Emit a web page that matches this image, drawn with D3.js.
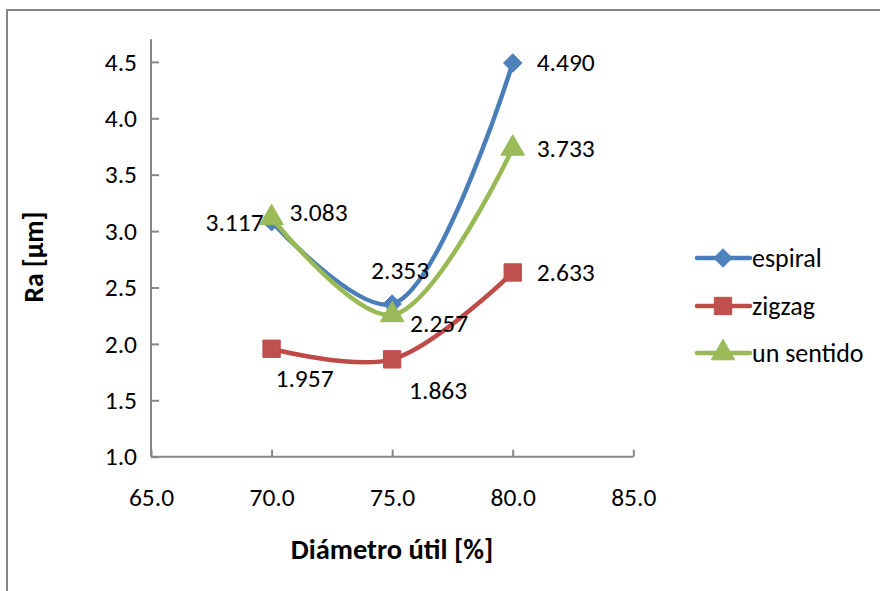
<!DOCTYPE html>
<html>
<head>
<meta charset="utf-8">
<script src="https://cdn.jsdelivr.net/npm/d3@7"></script>
<style>
  html, body { margin: 0; padding: 0; background: #fff; }
  svg { display: block; }
  text { font-family: Carlito, Lato, "Open Sans", sans-serif; fill: #000; }
</style>
</head>
<body>
<svg id="chart" width="880" height="591"></svg>
<script>
// ---- data ----
const xValues = [70, 75, 80];
const seriesNames = ["espiral", "zigzag", "un sentido"];
const espiral = [3.083, 2.353, 4.490];
const zigzag = [1.957, 1.863, 2.633];
const unSentido = [3.117, 2.257, 3.733];
const xTicks = [65, 70, 75, 80, 85];
const yTicks = [1.0, 1.5, 2.0, 2.5, 3.0, 3.5, 4.0, 4.5];
const xTitle = "Diámetro útil [%]";
const yTitle = "Ra [µm]";

// ---- styles ----
const colors = ["#4A7EBB", "#BE4B48", "#98B954"];
const markerFill = ["#4F81BD", "#C0504D", "#9BBB59"];
const FS = "25.5px";
// Excel-like diamond: a square rotated 45 degrees
const symbolExcelDiamond = {
  draw(ctx, size) {
    const r = Math.sqrt(size / 2);
    ctx.moveTo(0, -r); ctx.lineTo(r, 0); ctx.lineTo(0, r); ctx.lineTo(-r, 0); ctx.closePath();
  }
};
const markerTypes = [symbolExcelDiamond, d3.symbolSquare, d3.symbolTriangle];
const markerSizes = [170, 300, 240];
// label centre offsets (dx, dy) per series/point, as placed in the original
const labelOffsets = [
  [[47, -9], [8, -34], [53, 0]],
  [[33, 30], [46, 31], [53, 0]],
  [[-37, 5], [47, 9], [53, 0]]
];

const svg = d3.select("#chart");
const W = 880, H = 591;

// outer frame
svg.append("rect")
  .attr("x", 7).attr("y", 10).attr("width", W + 10).attr("height", H + 10)
  .attr("fill", "none").attr("stroke", "#868686").attr("stroke-width", 2);

const x = d3.scaleLinear().domain([65, 85]).range([151, 633.3]);
const y = d3.scaleLinear().domain([1.0, 4.7]).range([456.7, 39.3]);

// axes
const xAxis = d3.axisBottom(x).tickValues(xTicks).tickSize(-7).tickFormat(d3.format(".1f")).tickPadding(31);
const yAxis = d3.axisLeft(y).tickValues(yTicks).tickSize(-8).tickFormat(d3.format(".1f")).tickPadding(14);

const gx = svg.append("g").attr("transform", `translate(0,${y(1.0)})`).call(xAxis);
const gy = svg.append("g").attr("transform", `translate(${x(65)},0)`).call(yAxis);
[gx, gy].forEach(g => {
  g.select(".domain").attr("stroke", "#868686").attr("stroke-width", 2);
  g.selectAll(".tick line").attr("stroke", "#868686").attr("stroke-width", 2);
  g.selectAll(".tick text").style("font-size", FS).attr("fill", "#000")
    .style("font-family", "Carlito, Lato, 'Open Sans', sans-serif");
});
gx.select(".domain").attr("d", `M${x(65)},0H${x(85)}`);
gy.select(".domain").attr("d", `M0,${y(4.7)}V${y(1.0)}`);

// titles
svg.append("text").attr("x", 392).attr("y", 559).attr("text-anchor", "middle")
  .style("font-size", "28.5px").style("font-weight", "bold").text(xTitle);
svg.append("text").attr("transform", "translate(43,257) rotate(-90)").attr("text-anchor", "middle")
  .style("font-size", "27.5px").style("font-weight", "bold").text(yTitle);

// series
const allSeries = [espiral, zigzag, unSentido];
const line = d3.line().x(d => x(d[0])).y(d => y(d[1])).curve(d3.curveCatmullRom.alpha(0.5));

allSeries.forEach((vals, i) => {
  const pts = xValues.map((xv, j) => [xv, vals[j]]);
  const g = svg.append("g");
  g.append("path").attr("d", line(pts)).attr("fill", "none")
    .attr("stroke", colors[i]).attr("stroke-width", 4.5).attr("stroke-linecap", "round");
  g.selectAll("path.m").data(pts).enter().append("path")
    .attr("class", "m")
    .attr("d", d3.symbol().type(markerTypes[i]).size(markerSizes[i]))
    .attr("transform", d => `translate(${x(d[0])},${y(d[1])})`)
    .attr("fill", markerFill[i]).attr("stroke", colors[i]).attr("stroke-width", 1);
});

// data labels (drawn after so they sit on top)
allSeries.forEach((vals, i) => {
  xValues.forEach((xv, j) => {
    const off = labelOffsets[i][j];
    svg.append("text")
      .attr("x", x(xv) + off[0]).attr("y", y(vals[j]) + off[1])
      .attr("text-anchor", "middle").attr("dominant-baseline", "central")
      .style("font-size", FS).text(d3.format(".3f")(vals[j]));
  });
});

// legend
const legY = [258, 306, 353];
seriesNames.forEach((name, i) => {
  const g = svg.append("g").attr("transform", `translate(0,${legY[i]})`);
  g.append("line").attr("x1", 697).attr("x2", 750).attr("y1", 0).attr("y2", 0)
    .attr("stroke", colors[i]).attr("stroke-width", 4.5).attr("stroke-linecap", "round");
  g.append("path").attr("d", d3.symbol().type(markerTypes[i]).size(markerSizes[i]))
    .attr("transform", "translate(723,0)")
    .attr("fill", markerFill[i]).attr("stroke", colors[i]).attr("stroke-width", 1);
  g.append("text").attr("x", 752).attr("y", 0).attr("dominant-baseline", "central")
    .style("font-size", "26px").text(name);
});
</script>
</body>
</html>
